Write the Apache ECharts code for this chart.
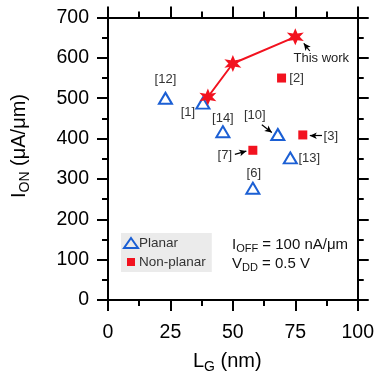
<!DOCTYPE html>
<html>
<head>
<meta charset="utf-8">
<script src="https://cdn.jsdelivr.net/npm/echarts@6/dist/echarts.min.js"></script>
<style>
  html, body { margin: 0; padding: 0; background: #fff; }
  #chart { width: 377px; height: 377px; }
</style>
</head>
<body>
<div id="chart"></div>
<script>
// On-current vs gate length at IOFF = 100 nA/um, VDD = 0.5 V
const thisWorkLg = [40, 50, 75];
const thisWorkIon = [503, 586, 652];

const planarLg = [23, 38, 46, 68, 73, 58];
const planarIon = [500, 488, 417, 410, 352, 277];
const planarRefs = ['[12]', '[1]', '[14]', '[10]', '[13]', '[6]'];

const nonPlanarLg = [69.5, 78, 58];
const nonPlanarIon = [550, 409, 371];
const nonPlanarRefs = ['[2]', '[3]', '[7]'];

const xTicks = [0, 25, 50, 75, 100];
const yTicks = [0, 100, 200, 300, 400, 500, 600, 700];

// Label placement (pixel offsets from the marker centre)
const refOffsets = {
  '[12]': [0, -19], '[1]': [-15, 9], '[14]': [0, -13], '[10]': [-23, -19],
  '[13]': [19, 0], '[6]': [1, -15], '[2]': [15, 0], '[3]': [28, 1], '[7]': [-28, 5]
};
// Pointer arrows [tail, head] in data units
const arrows = [
  [[80.8, 617], [78.4, 636]],
  [[61.6, 434], [65.6, 415]],
  [[85.7, 407], [80.8, 407]],
  [[50.8, 361], [55.4, 369]]
];

const RED = '#f2121f';
const BLUE = '#1b5fd4';
const FONT = '"Liberation Sans", Arial, Helvetica, sans-serif';

// Six-pointed star outline
function starPath(n, inner) {
  const pts = [];
  for (let i = 0; i < 2 * n; i++) {
    const r = i % 2 === 0 ? 1 : inner;
    const a = -Math.PI / 2 + i * Math.PI / n;
    pts.push((50 + 50 * r * Math.cos(a)).toFixed(2) + ' ' + (50 + 50 * r * Math.sin(a)).toFixed(2));
  }
  return 'path://M' + pts.join(' L') + ' Z';
}

const chart = echarts.init(document.getElementById('chart'), null, { renderer: 'canvas' });

function axisCommon(pos, showLabel, min, max, interval, labels) {
  return {
    type: 'value', position: pos, min: min, max: max, interval: interval,
    axisLine: { show: true, onZero: false, lineStyle: { color: '#000', width: 2 } },
    axisTick: { show: true, inside: false, length: 11, lineStyle: { color: '#000', width: 2 } },
    minorTick: { show: true, splitNumber: 2, length: 6, lineStyle: { color: '#000', width: 2 } },
    splitLine: { show: false },
    axisLabel: {
      show: showLabel, fontSize: 19.5, color: '#000', fontFamily: FONT,
      margin: pos === 'left' ? 19 : 23,
      formatter: function (v) { return labels.indexOf(v) >= 0 ? String(v) : ''; }
    }
  };
}

const planarData = planarLg.map((x, i) => ({
  value: [x, planarIon[i]],
  label: { formatter: planarRefs[i], offset: refOffsets[planarRefs[i]] }
}));
const nonPlanarData = nonPlanarLg.map((x, i) => ({
  value: [x, nonPlanarIon[i]],
  label: { formatter: nonPlanarRefs[i], offset: refOffsets[nonPlanarRefs[i]] }
}));
const refLabel = {
  show: true, position: 'inside', fontSize: 13, color: '#333', fontFamily: FONT
};

chart.setOption({
  animation: false,
  backgroundColor: '#fff',
  grid: { left: 108, right: 17, top: 17.5, bottom: 77 },
  xAxis: [
    axisCommon('bottom', true, 0, 100, 25, xTicks),
    axisCommon('top', false, 0, 100, 25, xTicks)
  ],
  yAxis: [
    axisCommon('left', true, 0, 700, 100, yTicks),
    axisCommon('right', false, 0, 700, 100, yTicks)
  ],
  legend: {
    left: 121, top: 233, orient: 'vertical',
    backgroundColor: '#ebebeb', padding: [3, 6, 3, 2],
    itemGap: 5, itemWidth: 14, itemHeight: 10,
    textStyle: { fontSize: 13.5, color: '#333', fontFamily: FONT, padding: [0, 0, 0, -4] },
    data: [
      { name: 'Planar', icon: 'path://M7 0 L14 10 L0 10 Z' },
      // square glyph centred in the 14x10 icon box
      { name: 'Non-planar', icon: 'path://M0 0 M14 10 M3 1 L11 1 L11 9 L3 9 Z' }
    ]
  },
  series: [
    {
      name: 'This work', type: 'line',
      data: thisWorkLg.map((x, i) => [x, thisWorkIon[i]]),
      symbol: starPath(6, 0.45), symbolSize: 17,
      lineStyle: { color: RED, width: 2 },
      itemStyle: { color: RED, opacity: 1 },
      label: {
        show: true, position: 'inside', fontSize: 13, color: '#222', fontFamily: FONT,
        offset: [26, 22],
        formatter: p => (p.dataIndex === thisWorkLg.length - 1 ? 'This work' : '')
      },
      z: 5
    },
    {
      name: 'Planar', type: 'scatter',
      data: planarData,
      symbol: 'triangle', symbolSize: [13, 11],
      itemStyle: { color: 'rgba(255,255,255,0)', borderColor: BLUE, borderWidth: 2, opacity: 1 },
      label: refLabel,
      z: 4
    },
    {
      name: 'Non-planar', type: 'scatter',
      data: nonPlanarData,
      symbol: 'rect', symbolSize: 9,
      itemStyle: { color: RED, opacity: 1 },
      label: refLabel,
      markLine: {
        silent: true, symbol: ['none', 'arrow'], symbolSize: [5, 7],
        lineStyle: { color: '#000', width: 1.2, type: 'solid' },
        label: { show: false },
        data: arrows.map(a => [{ coord: a[0] }, { coord: a[1] }])
      },
      z: 4
    }
  ],
  graphic: [
    {
      type: 'text', left: 232, top: 235,
      style: {
        text: '{m|I}{s|OFF}{m| = 100 nA/μm}\n{m|V}{s|DD}{m| = 0.5 V}',
        rich: {
          m: { fontSize: 15, fontFamily: FONT, fill: '#111', lineHeight: 19 },
          s: { fontSize: 11, fontFamily: FONT, fill: '#111', padding: [8, 0, 0, 0], lineHeight: 19 }
        }
      }
    },
    {
      type: 'text', left: 193, top: 351,
      style: {
        text: '{m|L}{s|G}{m| (nm)}',
        rich: {
          m: { fontSize: 20, fontFamily: FONT, fill: '#000' },
          s: { fontSize: 14, fontFamily: FONT, fill: '#000', padding: [13, 0, 0, 0] }
        }
      }
    },
    {
      type: 'text', x: 19, y: 146, rotation: Math.PI / 2,
      style: {
        text: '{m|I}{s|ON}{m| (μA/μm)}',
        align: 'center', verticalAlign: 'middle',
        rich: {
          m: { fontSize: 20, fontFamily: FONT, fill: '#000' },
          s: { fontSize: 14, fontFamily: FONT, fill: '#000', padding: [12, 0, 0, 0] }
        }
      }
    }
  ]
});
</script>
</body>
</html>
